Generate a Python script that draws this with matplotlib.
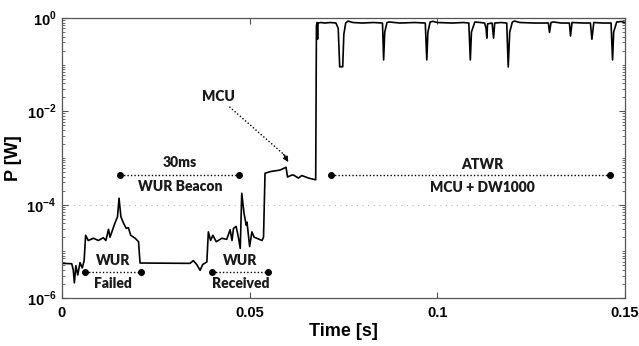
import numpy as np
import matplotlib
matplotlib.use('Agg')
import matplotlib.pyplot as plt
from matplotlib.ticker import LogLocator, FixedLocator, NullFormatter

plt.rcParams['mathtext.fontset'] = 'custom'
plt.rcParams['mathtext.rm'] = 'Liberation Sans:bold'
plt.rcParams['mathtext.bf'] = 'Liberation Sans:bold'

# power trace, split by phase
wur_failed_t = [0.0, 0.0026, 0.0030, 0.0033, 0.0037, 0.0042, 0.0048, 0.0054, 0.0059,
                0.0063, 0.0070, 0.0084, 0.0097, 0.0110, 0.0117, 0.0124, 0.0128, 0.0135,
                0.0141, 0.0148, 0.0152, 0.0157, 0.0164, 0.0171, 0.0177, 0.0183, 0.0195,
                0.0204]
wur_failed_p = [5.5e-6, 5.4e-6, 4.0e-6, 2.1e-6, 4.9e-6, 3.1e-6, 5.7e-6, 4.4e-6, 6.3e-6,
                2.2e-5, 1.7e-5, 1.9e-5, 1.7e-5, 1.95e-5, 1.7e-5, 2.95e-5, 2.0e-5, 2.9e-5,
                4.0e-5, 5.5e-5, 1.37e-4, 5.5e-5, 4.0e-5, 3.1e-5, 3.2e-5, 2.2e-5, 1.9e-5,
                1.6e-5]

idle_t = [0.0208, 0.0341, 0.0350, 0.0359, 0.0368, 0.0375, 0.0386]
idle_p = [5.6e-6, 5.5e-6, 6.3e-6, 5.2e-6, 3.9e-6, 5.2e-6, 5.9e-6]

wur_recv_t = [0.0390, 0.0396, 0.0402, 0.0411, 0.0426, 0.0439, 0.0448, 0.0453, 0.0457,
              0.0464, 0.0470, 0.0475, 0.0479, 0.0485, 0.0491, 0.0493, 0.0500, 0.0506,
              0.0512, 0.0519, 0.0533, 0.0537]
wur_recv_p = [2.6e-5, 1.7e-5, 2.2e-5, 1.6e-5, 1.9e-5, 1.8e-5, 2.9e-5, 1.7e-5, 3.1e-5,
              3.4e-5, 2.0e-5, 1.15e-5, 1.75e-4, 6.5e-5, 3.6e-5, 4.2e-5, 1.26e-5, 2.6e-5,
              2.0e-5, 1.9e-5, 1.7e-5, 2.0e-5]

mcu_t = [0.0541, 0.0555, 0.0581, 0.0597, 0.0601, 0.0612, 0.0617, 0.0630, 0.0639,
         0.0657, 0.0676]
mcu_p = [4.7e-4, 5.1e-4, 5.5e-4, 6.3e-4, 3.9e-4, 4.3e-4, 4.3e-4, 3.7e-4, 4.2e-4,
         3.7e-4, 3.4e-4]

atwr_t = [0.0678, 0.0680, 0.0681, 0.0682, 0.0690, 0.0700, 0.0715, 0.0730, 0.0736,
          0.0740, 0.0748, 0.0751, 0.0756, 0.0762, 0.0775, 0.0800, 0.0830, 0.0854,
          0.0857, 0.0860, 0.0866, 0.0872, 0.0900, 0.0940, 0.0968, 0.0972, 0.0975,
          0.0981, 0.0988, 0.1000, 0.1040, 0.1070, 0.1084, 0.1088, 0.1091, 0.1100,
          0.1115, 0.1126, 0.1130, 0.1132, 0.1134, 0.1146, 0.1150, 0.1153, 0.1170,
          0.1185, 0.1189, 0.1193, 0.1200, 0.1206, 0.1220, 0.1260, 0.1296, 0.1299,
          0.1303, 0.1310, 0.1330, 0.1352, 0.1355, 0.1359, 0.1390, 0.1408, 0.1412,
          0.1417, 0.1440, 0.1463, 0.1467, 0.1470, 0.1478, 0.1490, 0.1500]
atwr_p = [0.70, 0.80, 0.35, 0.78, 0.80, 0.78, 0.80, 0.78, 0.60,
          0.09, 0.09, 0.45, 0.78, 0.86, 0.80, 0.78, 0.80, 0.78,
          0.126, 0.50, 0.80, 0.82, 0.78, 0.80, 0.78, 0.126, 0.50,
          0.82, 0.85, 0.80, 0.78, 0.80, 0.78, 0.126, 0.50, 0.82,
          0.80, 0.78, 0.60, 0.37, 0.75, 0.78, 0.37, 0.78, 0.80,
          0.78, 0.089, 0.50, 0.82, 0.86, 0.80, 0.78, 0.78, 0.49,
          0.80, 0.82, 0.78, 0.78, 0.41, 0.80, 0.78, 0.78, 0.35,
          0.80, 0.78, 0.78, 0.126, 0.50, 0.82, 0.84, 0.80]

x_ticks = [0, 0.05, 0.1, 0.15]
x_labels = ['0', '0.05', '0.1', '0.15']
y_ticks = [1e-6, 1e-4, 1e-2, 1e0]
y_labels = [r'$10^{-6}$', r'$10^{-4}$', r'$10^{-2}$', r'$10^{0}$']

t = wur_failed_t + idle_t + wur_recv_t + mcu_t + atwr_t
p = wur_failed_p + idle_p + wur_recv_p + mcu_p + atwr_p

ann_font = dict(family='Lato', fontweight='heavy', fontsize=10, color='#1a1a1a')
tick_font = dict(family='Liberation Sans', fontweight='bold', fontsize=10.5)

fig = plt.figure(figsize=(6.39, 3.46), dpi=100)
ax = fig.add_axes([0.097, 0.139, 0.881, 0.809])

ax.axhline(1e-4, color='#bbbbbb', lw=0.8, ls=(0, (1, 4)), zorder=0)
ax.plot(t, p, color='black', lw=1.2)

ax.set_yscale('log')
ax.set_xlim(0, 0.15)
ax.set_ylim(1e-6, 1)

ax.xaxis.set_major_locator(FixedLocator(x_ticks))
ax.set_xticklabels(x_labels, fontdict=tick_font)
ax.yaxis.set_major_locator(FixedLocator(y_ticks))
ax.set_yticklabels(y_labels, fontdict=tick_font)
ax.yaxis.set_minor_locator(LogLocator(base=10, subs=np.arange(1, 10), numticks=20))
ax.yaxis.set_minor_formatter(NullFormatter())
ax.tick_params(which='both', direction='in', top=True, right=True, color='#555555')
ax.tick_params(which='major', length=4, pad=4)
ax.tick_params(axis='x', which='major', pad=6)
ax.tick_params(which='minor', length=2)
for s in ax.spines.values():
    s.set_color('#555555')
    s.set_linewidth(0.9)

ax.set_xlabel('Time [s]', fontsize=13, fontweight='bold', family='Liberation Sans', labelpad=2)
ax.set_ylabel('P [W]', fontsize=13, fontweight='bold', family='Liberation Sans', labelpad=3)


def span(t0, t1, y):
    ax.plot([t0, t1], [y, y], color='black', ls=(0, (1, 1.5)), lw=1.0)
    ax.plot([t0, t1], [y, y], 'o', color='black', ms=4)


span(0.0155, 0.0472, 4.3e-4)
ax.text(0.0315, 7.8e-4, '30ms', ha='center', va='center', **ann_font)
ax.text(0.0315, 2.4e-4, 'WUR Beacon', ha='center', va='center', **ann_font)

span(0.0061, 0.0211, 3.6e-6)
ax.text(0.0136, 6.2e-6, 'WUR', ha='center', va='center', **ann_font)
ax.text(0.0136, 2.0e-6, 'Failed', ha='center', va='center', **ann_font)

span(0.0400, 0.0549, 3.6e-6)
ax.text(0.0475, 6.2e-6, 'WUR', ha='center', va='center', **ann_font)
ax.text(0.0475, 2.0e-6, 'Received', ha='center', va='center', **ann_font)

span(0.0717, 0.1459, 4.3e-4)
ax.text(0.112, 7.1e-4, 'ATWR', ha='center', va='center', **ann_font)
ax.text(0.112, 2.3e-4, 'MCU + DW1000', ha='center', va='center', **ann_font)

ax.text(0.0416, 0.0204, 'MCU', ha='center', va='center', **ann_font)
ax.plot([0.0446, 0.0596], [0.0125, 1.1e-3], color='black', ls=(0, (1, 1.5)), lw=1.0)
ax.annotate('', xy=(0.0603, 8.2e-4), xytext=(0.0590, 1.2e-3),
            arrowprops=dict(arrowstyle='-|>', color='black', lw=0.8,
                            mutation_scale=8, shrinkA=0, shrinkB=0))

fig.savefig('out.png', dpi=100)
